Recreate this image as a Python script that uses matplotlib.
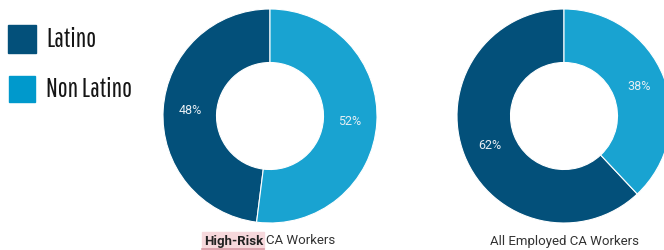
import matplotlib
matplotlib.use("Agg")
import matplotlib.pyplot as plt
from matplotlib.patches import Rectangle

groups = ["Latino", "Non Latino"]
high_risk = [48, 52]
all_employed = [62, 38]
titles = ["High-Risk", "CA Workers", "All Employed CA Workers"]
colors = ["#03507a", "#19a3d1"]
legend_colors = ["#03507a", "#0099cc"]

W, H = 664, 250
fig = plt.figure(figsize=(W/100, H/100), dpi=100)

def px_axes(cx, cy, r):
    return fig.add_axes([(cx - r)/W, (H - cy - r)/H, 2*r/W, 2*r/H])

def draw_pie(ax, vals):
    ax.pie(
        vals, colors=colors, startangle=90, counterclock=True,
        wedgeprops=dict(width=0.5, edgecolor="white", linewidth=0.8),
        autopct=lambda p: f"{p:.0f}%", pctdistance=0.75,
        textprops=dict(color="#e6eef4", fontsize=9, family="Roboto"))
    ax.set_xlim(-1, 1); ax.set_ylim(-1, 1)
    ax.set_aspect("equal")
    ax.axis("off")

ax1 = px_axes(270, 116, 107)
draw_pie(ax1, high_risk)
ax2 = px_axes(564, 116, 107)
draw_pie(ax2, all_employed)

# legend
lax = fig.add_axes([0, 0, 1, 1], zorder=-1)
lax.set_xlim(0, W); lax.set_ylim(H, 0); lax.axis("off")
lax.add_patch(Rectangle((8, 25), 28, 28, color=legend_colors[0]))
lax.add_patch(Rectangle((9, 76), 26, 26, color=legend_colors[1]))
lfont = dict(family="Pathway Gothic One", fontsize=19, color="#151515",
             va="baseline", ha="left")
lax.text(46, 47, groups[0], **lfont)
lax.text(46, 97, groups[1], **lfont)

# titles
tax = fig.add_axes([0, 0, 1, 1], zorder=5)
tax.set_xlim(0, W); tax.set_ylim(H, 0); tax.axis("off")
tax.add_patch(Rectangle((202, 232), 62, 17, color="#f6d8dc", zorder=1))
tax.plot([202, 264], [249, 249], color="#d99aa5", lw=1.2, zorder=2)
tax.text(263, 241, titles[0], ha="right", va="center", fontsize=9.5,
         fontweight="bold", family="Roboto", color="#222222", zorder=3)
tax.text(266, 241, titles[1], ha="left", va="center", fontsize=9.5,
         family="Roboto", color="#333333", zorder=3)
tax.text(564, 241, titles[2], ha="center", va="center", fontsize=9.5,
         family="Roboto", color="#333333", zorder=3)

fig.savefig("out.png", dpi=100)
